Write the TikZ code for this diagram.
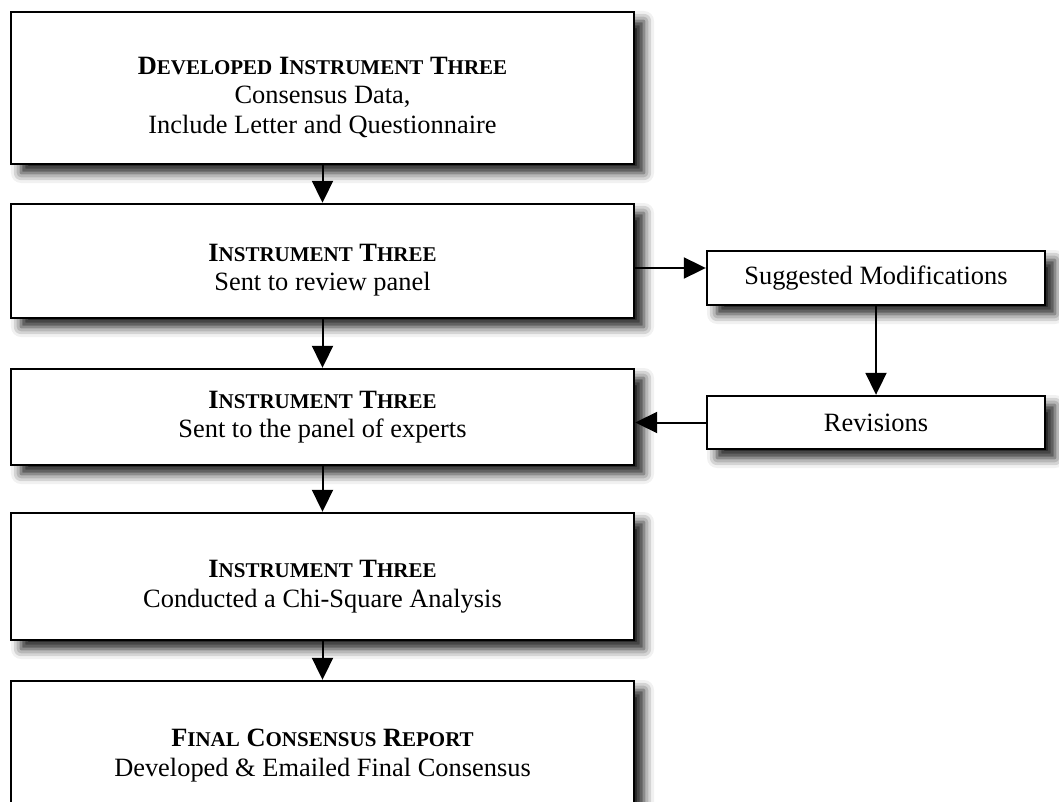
\documentclass[tikz,border=0pt]{standalone}
\usepackage{fontspec}
\setmainfont{Liberation Serif}
\usetikzlibrary{arrows.meta,shadows.blur}
\newcommand\capword[2]{#1{\fontsize{10.5}{10}\selectfont #2}}
\newcommand\topgap[1]{\rule{0pt}{#1}}

\begin{document}
\begin{tikzpicture}[x=0.5pt,y=-0.5pt]
	\tikzset{stepbox/.style={draw, line width=1.2pt, fill=white, inner sep=0pt,
				align=center, font=\fontsize{13.2}{14.8}\selectfont,
				blur shadow={shadow xshift=5pt, shadow yshift=-4.5pt,
						shadow blur radius=5pt, shadow opacity=90}}}
	\tikzset{flowline/.style={line width=1pt, -{Triangle[length=11pt,width=10.5pt]}}}

	\useasboundingbox (0,0) rectangle (1059,802);
	\clip (0,0) rectangle (1059,802);

	% main column
	\node[stepbox, minimum width=311.5pt, minimum height=76pt] (dev) at (322.5,88)
		{\topgap{18pt}\textbf{\capword{D}{EVELOPED} \capword{I}{NSTRUMENT} \capword{T}{HREE}}\\
			Consensus Data,\\ Include Letter and Questionnaire};
	\node[stepbox, minimum width=311.5pt, minimum height=57pt] (sent) at (322.5,261)
		{\topgap{18pt}\textbf{\capword{I}{NSTRUMENT} \capword{T}{HREE}}\\ Sent to review panel};
	\node[stepbox, minimum width=311.5pt, minimum height=48pt] (panel) at (322.5,417)
		{\textbf{\capword{I}{NSTRUMENT} \capword{T}{HREE}}\\ Sent to the panel of experts};
	\node[stepbox, minimum width=311.5pt, minimum height=63.5pt] (chi) at (322.5,576.5)
		{\topgap{19pt}\textbf{\capword{I}{NSTRUMENT} \capword{T}{HREE}}\\ Conducted a Chi-Square Analysis};
	\node[stepbox, minimum width=311.5pt, minimum height=74.5pt] (final) at (322.5,755.5)
		{\textbf{\capword{F}{INAL} \capword{C}{ONSENSUS} \capword{R}{EPORT}}\\ Developed \& Emailed Final Consensus};

	% side column
	\node[stepbox, minimum width=169pt, minimum height=27pt] (sugg) at (876,278) {Suggested Modifications};
	\node[stepbox, minimum width=169pt, minimum height=26.5pt] (rev) at (876,422.5) {Revisions};

	\draw[flowline] (dev) -- (sent);
	\draw[flowline] (sent) -- (panel);
	\draw[flowline] (panel) -- (chi);
	\draw[flowline] (chi) -- (final);
	\draw[flowline] ([yshift=-3.5pt]sent.east) -- ([yshift=-3.5pt]sent.east -| sugg.west);
	\draw[flowline] (sugg) -- (rev);
	\draw[flowline] (rev.west) -- (rev.west -| panel.east);
\end{tikzpicture}
\end{document}
